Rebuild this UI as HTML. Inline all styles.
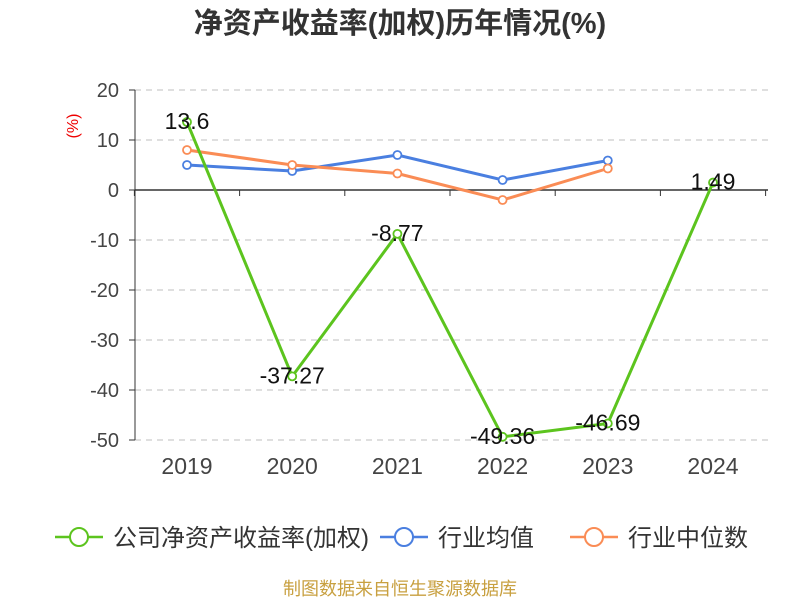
<!DOCTYPE html>
<html><head><meta charset="utf-8"><style>
body{margin:0;background:#fff;font-family:"Liberation Sans","Noto Sans CJK SC",sans-serif}
</style></head><body>
<svg id="c" width="800" height="600" xmlns="http://www.w3.org/2000/svg" style="font-family:'Liberation Sans','Noto Sans CJK SC',sans-serif">
<text x="400" y="33" text-anchor="middle" font-size="29" font-weight="bold" fill="#333">净资产收益率(加权)历年情况(%)</text>
<text transform="translate(78,126) rotate(-90)" text-anchor="middle" font-size="16" fill="#e00">(%)</text>
<g id="grid"></g><g id="axes"></g><g id="series"></g>
<g font-size="24" fill="#333">
<g><line x1="55" y1="537" x2="103" y2="537" stroke="#5cc41e" stroke-width="2.5"/><circle cx="79" cy="537" r="9" fill="#fff" stroke="#5cc41e" stroke-width="2"/><text x="113" y="546">公司净资产收益率(加权)</text></g>
<g><line x1="380" y1="537" x2="428" y2="537" stroke="#4a7fe0" stroke-width="2.5"/><circle cx="404" cy="537" r="9" fill="#fff" stroke="#4a7fe0" stroke-width="2"/><text x="438" y="546">行业均值</text></g>
<g><line x1="570" y1="537" x2="618" y2="537" stroke="#fa8c55" stroke-width="2.5"/><circle cx="594" cy="537" r="9" fill="#fff" stroke="#fa8c55" stroke-width="2"/><text x="628" y="546">行业中位数</text></g>
</g>
<text x="400" y="595" text-anchor="middle" font-size="18" fill="#c8a040">制图数据来自恒生聚源数据库</text>
</svg>
<script>
const categories=["2019","2020","2021","2022","2023","2024"];
const yTicks=[20,10,0,-10,-20,-30,-40,-50];
const company=[13.6,-37.27,-8.77,-49.36,-46.69,1.49];
const companyLabels=["13.6","-37.27","-8.77","-49.36","-46.69","1.49"];
const industryAvg=[5,3.8,7,2,5.9];
const industryMedian=[8,5,3.3,-2,4.3];
const NS="http://www.w3.org/2000/svg";
const x=i=>187+i*105.2;
const y=v=>190-v*5;
function mk(t,a,p){const e=document.createElementNS(NS,t);for(const k in a)e.setAttribute(k,a[k]);p.appendChild(e);return e;}
const grid=document.getElementById('grid'),axes=document.getElementById('axes'),ser=document.getElementById('series');
yTicks.forEach(v=>{
 const l=mk('line',{x1:135,x2:768,y1:y(v),y2:y(v),stroke:v===0?'#333':'#ccc','stroke-width':v===0?1.5:1.2,'stroke-dasharray':v===0?'':'6,5'},grid);
 
 
 const t=mk('text',{x:119,y:y(v)+7,'text-anchor':'end','font-size':20,fill:'#444'},axes);t.textContent=v;
 
 
 mk('line',{x1:129,x2:135,y1:y(v),y2:y(v),stroke:'#333'},axes);
});
mk('line',{x1:135,x2:135,y1:y(20),y2:y(-50),stroke:'#333'},axes);
categories.forEach((c,i)=>{
 const t=mk('text',{x:x(i),y:474,'text-anchor':'middle','font-size':23,fill:'#444'},axes);t.textContent=c;
 
 
 mk('line',{x1:x(i)+52.6,x2:x(i)+52.6,y1:190,y2:196,stroke:'#333'},axes);
});
mk('line',{x1:134.4,x2:134.4,y1:190,y2:196,stroke:'#333'},axes);
function series(vals,col,name){
 const g=mk('g',{},ser);
 
 
 mk('polyline',{points:vals.map((v,i)=>x(i)+','+y(v)).join(' '),fill:'none',stroke:col,'stroke-width':3},g);
 vals.forEach((v,i)=>{const c=mk('circle',{cx:x(i),cy:y(v),r:4,fill:'#fff',stroke:col,'stroke-width':1.8},g);
  
  });
}
series(industryAvg,'#4a7fe0','industry-avg-line');
series(industryMedian,'#fa8c55','industry-median-line');
series(company,'#5cc41e','company-line');
company.forEach((v,i)=>{const t=mk('text',{x:x(i),y:y(v)+7,'text-anchor':'middle','font-size':23,fill:'#111'},ser);t.textContent=companyLabels[i];
 
 });
</script>
</body></html>
